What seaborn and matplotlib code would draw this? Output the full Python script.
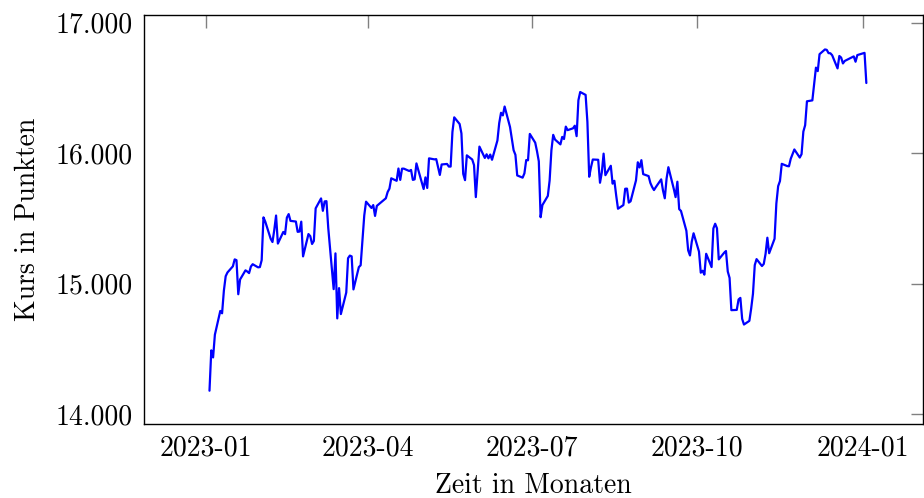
import matplotlib
matplotlib.use("Agg")
import matplotlib.pyplot as plt
import matplotlib.dates as mdates
from matplotlib.ticker import FuncFormatter, FixedLocator
import seaborn as sns
import pandas as pd

# DAX closing values 2023
jan_days = [3, 4, 5, 6, 9, 10, 11, 12, 13, 16, 17, 18, 19, 20, 23, 24, 25, 26, 27, 30, 31]
jan_vals = [14181, 14490, 14436, 14610, 14792, 14774, 14948, 15058, 15087, 15134, 15187, 15181,
            14920, 15033, 15103, 15094, 15082, 15132, 15150, 15126, 15128]
feb_days = [1, 2, 3, 6, 7, 8, 9, 10, 13, 14, 15, 16, 17, 20, 21, 22, 23, 24, 27, 28]
feb_vals = [15181, 15509, 15476, 15345, 15320, 15412, 15523, 15308, 15397, 15380, 15507, 15534,
            15482, 15477, 15398, 15400, 15476, 15210, 15381, 15365]
mar_days = [1, 2, 3, 6, 7, 8, 9, 10, 13, 14, 15, 16, 17, 20, 21, 22, 23, 24, 27, 28, 29, 30, 31]
mar_vals = [15305, 15328, 15578, 15654, 15559, 15631, 15633, 15427, 14959, 15233, 14735, 14967,
            14768, 14933, 15196, 15216, 15210, 14957, 15128, 15142, 15329, 15523, 15629]
apr_days = [3, 4, 5, 6, 11, 12, 13, 14, 17, 18, 19, 20, 21, 24, 25, 26, 27, 28]
apr_vals = [15581, 15603, 15520, 15597, 15655, 15703, 15729, 15808, 15789, 15883, 15796, 15882,
            15882, 15864, 15872, 15796, 15800, 15922]
may_days = [2, 3, 4, 5, 8, 9, 10, 11, 12, 15, 16, 17, 18, 19, 22, 23, 24, 25, 26, 29, 30, 31]
may_vals = [15726, 15815, 15734, 15961, 15953, 15955, 15896, 15834, 15914, 15918, 15898, 15898,
            16163, 16275, 16224, 16152, 15842, 15794, 15984, 15952, 15909, 15664]
jun_days = [1, 2, 5, 6, 7, 8, 9, 12, 13, 14, 15, 16, 19, 20, 21, 22, 23, 26, 27, 28, 29, 30]
jun_vals = [15853, 16051, 15964, 15992, 15961, 15990, 15950, 16098, 16231, 16310, 16290, 16358,
            16201, 16111, 16023, 15988, 15830, 15813, 15846, 15948, 15946, 16148]
jul_days = [3, 4, 5, 6, 7, 10, 11, 12, 13, 14, 17, 18, 19, 20, 21, 24, 25, 26, 27, 28, 31]
jul_vals = [16081, 16015, 15938, 15510, 15603, 15673, 15790, 16023, 16141, 16105, 16068, 16125,
            16109, 16204, 16177, 16191, 16211, 16131, 16406, 16469, 16447]
aug_days = [1, 2, 3, 4, 7, 8, 9, 10, 11, 14, 15, 16, 17, 18, 21, 22, 23, 24, 25, 28, 29, 30, 31]
aug_vals = [16240, 15820, 15893, 15952, 15950, 15774, 15852, 15997, 15832, 15904, 15767, 15789,
            15676, 15575, 15603, 15728, 15729, 15622, 15632, 15792, 15931, 15891, 15947]
sep_days = [1, 4, 5, 6, 7, 8, 11, 12, 13, 14, 15, 18, 19, 20, 21, 22, 25, 26, 27, 28, 29]
sep_vals = [15840, 15825, 15772, 15741, 15718, 15740, 15800, 15715, 15655, 15806, 15893, 15727,
            15664, 15782, 15572, 15558, 15406, 15256, 15217, 15323, 15387]
oct_days = [2, 3, 4, 5, 6, 9, 10, 11, 12, 13, 16, 17, 18, 19, 20, 23, 24, 25, 26, 27, 30, 31]
oct_vals = [15247, 15085, 15100, 15070, 15230, 15128, 15424, 15460, 15425, 15187, 15238, 15251,
            15094, 15045, 14798, 14800, 14880, 14892, 14731, 14688, 14716, 14810]
nov_days = [1, 2, 3, 6, 7, 8, 9, 10, 13, 14, 15, 16, 17, 20, 21, 22, 23, 24, 27, 28, 29, 30]
nov_vals = [14923, 15143, 15189, 15136, 15152, 15229, 15353, 15234, 15345, 15615, 15748, 15787,
            15919, 15902, 15900, 15958, 15994, 16029, 15967, 15993, 16166, 16215]
dec_days = [1, 4, 5, 6, 7, 8, 11, 12, 13, 14, 15, 18, 19, 20, 21, 22, 27, 28, 29]
dec_vals = [16398, 16405, 16533, 16656, 16629, 16759, 16795, 16792, 16767, 16766, 16751, 16650,
            16745, 16733, 16688, 16707, 16742, 16701, 16752]
jan24_days = [2, 3]
jan24_vals = [16769, 16538]

x_ticks = ["2023-01-01", "2023-04-01", "2023-07-01", "2023-10-01", "2024-01-01"]
y_ticks = [14000, 15000, 16000, 17000]

months = [
    (2023, 1, jan_days, jan_vals), (2023, 2, feb_days, feb_vals), (2023, 3, mar_days, mar_vals),
    (2023, 4, apr_days, apr_vals), (2023, 5, may_days, may_vals), (2023, 6, jun_days, jun_vals),
    (2023, 7, jul_days, jul_vals), (2023, 8, aug_days, aug_vals), (2023, 9, sep_days, sep_vals),
    (2023, 10, oct_days, oct_vals), (2023, 11, nov_days, nov_vals), (2023, 12, dec_days, dec_vals),
    (2024, 1, jan24_days, jan24_vals),
]
rows = []
for y, m, ds, vs in months:
    for d, v in zip(ds, vs):
        rows.append((pd.Timestamp(year=y, month=m, day=d), v))
df = pd.DataFrame(rows, columns=["Datum", "Kurs"])

sns.set_style("white")
plt.rcParams["font.family"] = ["cmr10", "DejaVu Serif"]
plt.rcParams["mathtext.fontset"] = "cm"
plt.rcParams["axes.unicode_minus"] = False
plt.rcParams["text.color"] = "black"
plt.rcParams["axes.labelcolor"] = "black"

fig = plt.figure(figsize=(9.24, 4.98), dpi=100)
W, H = 924, 498
left, right, top, bottom = 143.5, 922.5, 15, 424
ax = fig.add_axes([left / W, (H - bottom) / H, (right - left) / W, (bottom - top) / H])

sns.lineplot(data=df, x="Datum", y="Kurs", ax=ax, color="#0000ff", linewidth=1.6)

ax.set_xlim(pd.Timestamp("2022-11-27 08:00"), pd.Timestamp("2024-02-03 05:00"))
ax.set_ylim(13926, 17059)

ax.xaxis.set_major_locator(FixedLocator(mdates.date2num(pd.to_datetime(x_ticks))))
ax.xaxis.set_major_formatter(mdates.DateFormatter("%Y-%m"))
ax.yaxis.set_major_locator(FixedLocator(y_ticks))
ax.yaxis.set_major_formatter(FuncFormatter(lambda v, p: f"{int(v):,}".replace(",", ".")))

ax.tick_params(direction="in", top=True, right=True, length=9, width=1.0,
               color="#808080", labelsize=20, labelcolor="black")
ax.tick_params(axis="x", pad=8)
ax.tick_params(axis="y", pad=8)
for s in ax.spines.values():
    s.set_color("black")
    s.set_linewidth(1.0)

ax.set_xlabel("Zeit in Monaten", fontsize=20, labelpad=8, color="black")
ax.set_ylabel("Kurs in Punkten", fontsize=20, labelpad=10, color="black")

fig.savefig("out.png", dpi=100)
